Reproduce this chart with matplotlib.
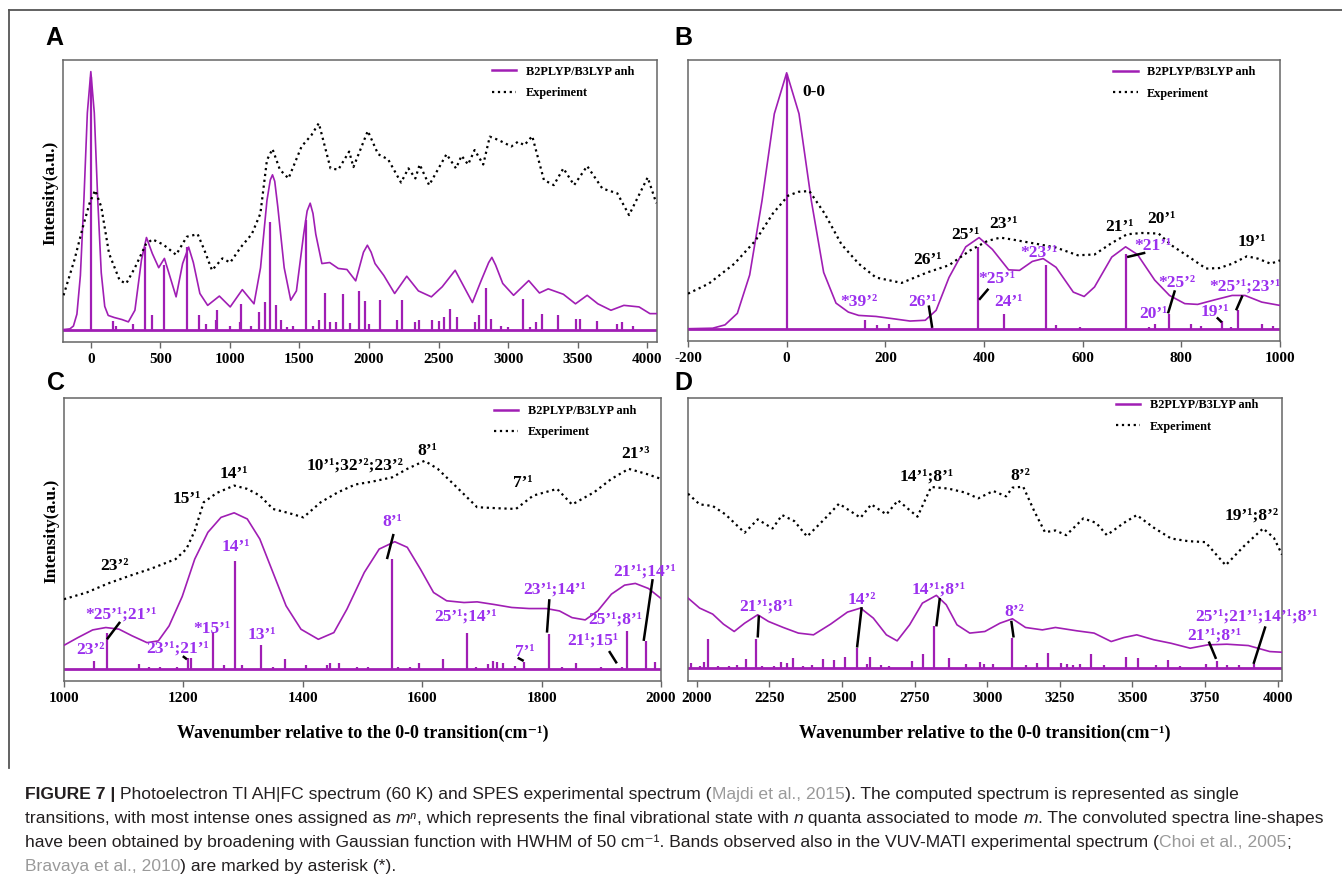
import matplotlib.pyplot as plt
from matplotlib.lines import Line2D

plt.rcParams['font.family'] = ['Liberation Serif', 'DejaVu Serif']
plt.rcParams['font.weight'] = 'bold'
plt.rcParams['axes.unicode_minus'] = False

PURPLE = '#A01EB4'
LABEL = '#9B30EE'
W, H = 1342, 880

# ---------------- panel A : full range ----------------
a_stick_x = [0, 160, 180, 300, 390, 440, 525, 690, 780, 830, 900, 910, 1000, 1070, 1080, 1150, 1210, 1250,
             1290, 1330, 1370, 1410, 1450, 1550, 1600, 1640, 1680, 1720, 1760, 1810, 1860, 1930, 1970, 2000,
             2080, 2200, 2240, 2330, 2360, 2450, 2500, 2540, 2580, 2630, 2760, 2790, 2840, 2880, 2950, 3000,
             3110, 3160, 3200, 3240, 3360, 3490, 3520, 3640, 3780, 3820, 3900]
a_stick_y = [98, 3.4, 1.5, 2, 32, 5.6, 25, 32, 5.6, 2, 3.6, 7.5, 1.5, 3, 10, 1.5, 6.9, 10.7,
             41.8, 9.4, 3.6, 1, 1.5, 42.4, 1.5, 3.6, 14, 3, 3, 13.7, 2.6, 15, 11, 2.3,
             11.4, 3.9, 11.4, 3, 3.9, 3.9, 3.4, 4.7, 7.8, 4.7, 3, 5.8, 16, 4, 1.5, 1.2,
             11.8, 1.2, 3, 6.2, 5.6, 4.3, 4, 3.4, 2.3, 3, 1.5]
a_calc_x = [-200, -150, -125, -100, -75, -50, -25, 0, 25, 50, 75, 100, 125, 168, 224, 270, 317, 364, 400,
            442, 488, 529, 572, 613, 660, 703, 737, 784, 840, 924, 1002, 1089, 1173, 1220, 1266, 1290, 1306,
            1322, 1344, 1390, 1437, 1478, 1530, 1555, 1577, 1597, 1617, 1661, 1717, 1779, 1841, 1904, 1960,
            1988, 2015, 2043, 2106, 2184, 2271, 2355, 2448, 2526, 2619, 2743, 2806, 2860, 2883, 2910, 2961,
            3039, 3148, 3225, 3288, 3397, 3484, 3568, 3645, 3739, 3832, 3941, 4019, 4070]
a_calc_y = [0, 0.3, 1.4, 6, 21, 50, 84, 100, 84, 50, 22, 9, 5.5, 4.7, 3.9, 3, 7.5, 27, 35.7,
            29.5, 24, 27.6, 20, 12.7, 25.6, 32, 26, 14, 9.4, 13, 8.8, 15.5, 10, 24, 50, 58, 60,
            57.5, 47.6, 24, 11.4, 15, 37, 46, 49, 45, 37, 25.6, 26, 23.7, 23.3, 18.9, 30,
            32.7, 30, 25.6, 21, 14, 20.7, 15, 12.7, 16.6, 23, 10.5, 19, 26, 28, 25, 17.9,
            13.3, 19, 14.2, 15.8, 13.7, 10, 13.3, 10, 7.5, 9.4, 8.8, 6.2, 6.2]
a_exp_x = [-196, -118, -56, -9, 31, 75, 131, 208, 255, 317, 395, 442, 520, 613, 690, 768, 815, 871, 946,
           1002, 1079, 1157, 1219, 1266, 1306, 1359, 1421, 1515, 1586, 1639, 1723, 1779, 1857, 1888, 1991,
           2065, 2137, 2230, 2283, 2333, 2364, 2432, 2557, 2625, 2665, 2712, 2759, 2821, 2868, 2930, 3023,
           3070, 3117, 3173, 3257, 3328, 3397, 3474, 3568, 3677, 3785, 3869, 4003, 4065]
a_exp_y = [13.3, 27, 40, 49, 54, 47.6, 29.5, 19, 17.9, 24, 33, 35, 33, 29, 36, 37, 31, 23, 27.6,
           26, 32, 37, 45, 65.7, 70, 62, 58.6, 71, 75.4, 80, 62.5, 62, 69, 63, 77,
           68, 66, 57, 62.5, 58.6, 64, 56, 68, 62.5, 67.4, 64, 69.6, 64, 74.8, 73.5, 71,
           72.8, 71.5, 75, 58, 56, 62.5, 56, 63.4, 54.7, 52.8, 44.4, 59, 49]
a_ticks = [0, 500, 1000, 1500, 2000, 2500, 3000, 3500, 4000]

# ---------------- panel B : -200..1000 ----------------
b_stick_x = [0, 158, 183, 207, 295, 387, 440, 525, 545, 595, 687, 735, 747, 775, 820, 840, 883, 900, 915, 963, 985]
b_stick_y = [99.5, 3.3, 1.3, 1.7, 0.6, 32, 5.9, 24.8, 1.3, 0.7, 29, 0.8, 2, 5.9, 2, 1, 3, 0.8, 7.4, 1.7, 1]
b_calc_x = [-200, -150, -125, -100, -75, -50, -25, 0, 25, 50, 75, 100, 125, 146, 181, 216, 250, 281, 303, 329,
            363, 390, 417, 450, 472, 498, 520, 546, 581, 603, 624, 659, 687, 711, 746, 776, 807, 833, 868, 903,
            929, 963, 1000]
b_calc_y = [0, 0.2, 1.5, 6, 21, 50, 84, 100, 84, 50, 22, 10, 6.5, 5.2, 4.8, 3.9, 3, 3.3, 7.2, 20,
            32, 35.6, 31, 23, 22.8, 26.3, 27.4, 24, 14.3, 12.6, 16.3, 28, 32, 29, 19, 13, 9.8, 9.5, 11.3, 13,
            13, 10.4, 9.1]
b_exp_x = [-200, -158, -106, -63, -28, 3, 24, 46, 77, 111, 146, 181, 233, 285, 329, 372, 407, 433, 459, 511,
           546, 590, 624, 659, 690, 720, 754, 780, 816, 850, 877, 903, 933, 955, 981, 1000]
b_exp_y = [13.7, 17.6, 25.4, 34.5, 45, 52, 53.5, 53.8, 45, 33, 25.4, 20, 17.9, 22, 24.8, 30.6, 34.3, 35.6, 34.8, 33,
           31.7, 28.7, 29, 33.5, 36.9, 37.4, 37.2, 32.6, 28, 23.5, 23.7, 25.4, 28.3, 27.4, 25.4, 26.7]
b_ticks = [-200, 0, 200, 400, 600, 800, 1000]
b_black = [('0-0', 55, 92.6), ('26’¹', 285, 26.7), ('25’¹', 363, 36.5), ('23’¹', 440, 40.8),
           ('21’¹', 675, 39.8), ('20’¹', 759, 43), ('19’¹', 942, 33.9)]
b_purple = [('*39’²', 146, 10.4), ('26’¹', 275, 10.4), ('*25’¹', 426, 19.6), ('24’¹', 449, 10.4),
            ('*23’¹', 511, 29.6), ('*21’¹', 742, 32.2), ('*25’²', 790, 17.9), ('20’¹', 744, 5.9),
            ('19’¹', 868, 6.5), ('*25’¹;23’¹', 929, 16.3)]
b_leaders = [((288, 9.1), (295, 0.4)), ((409, 15.6), (390, 11.3)), ((727, 29.7), (690, 28)),
             ((787, 15), (773, 6)), ((872, 4.4), (882, 2.5)), ((924, 13), (911, 7.2))]

# ---------------- panel C : 1000..2000 ----------------
c_stick_x = [1050, 1072, 1125, 1142, 1160, 1190, 1208, 1213, 1250, 1268, 1287, 1298, 1330, 1350, 1370, 1405,
             1440, 1445, 1460, 1490, 1510, 1550, 1560, 1580, 1595, 1635, 1675, 1690, 1710, 1718, 1725, 1735,
             1755, 1770, 1812, 1835, 1858, 1900, 1935, 1943, 1975, 1990]
c_stick_y = [2.9, 13.5, 1.6, 0.8, 0.8, 0.8, 4.1, 4, 13.8, 1.2, 40.4, 1.2, 8.8, 0.8, 3.5, 1.2,
             1.2, 2, 2.3, 0.8, 0.8, 41, 0.8, 0.8, 2.3, 3.5, 13.3, 0.8, 1.6, 2.9, 2.5, 2.3,
             1, 2.5, 12.9, 0.8, 2.3, 0.8, 0.8, 14.1, 10.4, 2.5]
c_calc_x = [1000, 1023, 1048, 1070, 1092, 1114, 1139, 1158, 1176, 1198, 1219, 1241, 1263, 1285, 1307, 1328,
            1350, 1372, 1397, 1426, 1452, 1474, 1503, 1528, 1554, 1575, 1597, 1619, 1641, 1670, 1692, 1721,
            1750, 1779, 1808, 1830, 1851, 1873, 1894, 1917, 1939, 1957, 1979, 2000]
c_calc_y = [8.75, 11.6, 14.5, 15.4, 14.8, 12.3, 9.75, 10.4, 16, 27, 41, 51, 56.6, 58.3, 56, 48.5,
            36, 23.5, 14.75, 11, 13.5, 22.3, 36, 44.75, 47.5, 45.4, 37.25, 28.5, 25.4, 24.75, 25, 24,
            22.9, 22.5, 22.5, 21.6, 19.1, 18.25, 21.6, 27.9, 31.25, 31.9, 30, 26.25]
c_exp_x = [1000, 1038, 1074, 1110, 1147, 1187, 1205, 1219, 1234, 1256, 1285, 1307, 1328, 1350, 1376, 1401,
           1430, 1459, 1488, 1517, 1550, 1575, 1604, 1626, 1655, 1692, 1728, 1757, 1786, 1826, 1851, 1888,
           1917, 1946, 1975, 2000]
c_exp_y = [26, 28.5, 31.9, 34.75, 37.5, 41, 44.75, 51.6, 62.25, 65.75, 68.5, 67.25, 64.75, 59.75, 58.25, 56.6,
           62.25, 66, 68.9, 70, 71.6, 74.75, 77.75, 74.75, 68.5, 60.4, 60, 59.75, 64.75, 67.25, 61.4, 66,
           71, 74.75, 72.9, 71]
c_ticks = [1000, 1200, 1400, 1600, 1800, 2000]
c_black = [('23’²', 1085, 38.5), ('15’¹', 1206, 63.5), ('14’¹', 1285, 72.9), ('10’¹;32’²;23’²', 1487, 76),
           ('8’¹', 1608, 81.25), ('7’¹', 1768, 69.5), ('21’³', 1957, 80.4)]
c_purple = [('*25’¹;21’¹', 1096, 20.4), ('23’²', 1044, 7), ('23’¹;21’¹', 1190, 7.5), ('*15’¹', 1248, 14.75),
            ('14’¹', 1288, 45.4), ('13’¹', 1332, 12.5), ('8’¹', 1550, 54.75), ('25’¹;14’¹', 1673, 19.5),
            ('23’¹;14’¹', 1822, 29.5), ('7’¹', 1772, 6.25), ('21¹;15¹', 1886, 10.4), ('25’¹;8’¹', 1924, 18.5),
            ('21’¹;14’¹', 1973, 36.4)]
c_leaders = [((1094, 17.5), (1072, 11)), ((1199, 4.7), (1206, 3.5)), ((1552, 50.4), (1541, 41)),
             ((1813, 26), (1809, 13.5)), ((1913, 6.6), (1926, 2)), ((1986, 33.5), (1971, 10.4)),
             ((1760, 4.1), (1770, 2.9))]

# ---------------- panel D : 2000..4000 ----------------
d_stick_x = [1980, 2010, 2026, 2039, 2072, 2112, 2138, 2168, 2204, 2225, 2265, 2291, 2311, 2332, 2367, 2398,
             2434, 2474, 2510, 2551, 2587, 2597, 2633, 2663, 2740, 2780, 2816, 2867, 2928, 2974, 2990, 3020,
             3086, 3132, 3173, 3209, 3255, 3275, 3296, 3321, 3357, 3403, 3479, 3520, 3581, 3622, 3663, 3755,
             3790, 3826, 3867, 3918]
d_stick_y = [1.6, 0.5, 2, 10.6, 0.5, 0.5, 1, 3.25, 10.6, 0.5, 0.5, 2.25, 1.6, 3.5, 0.5, 1,
             3.25, 2.9, 4.1, 7.25, 1.2, 4.1, 0.8, 0.5, 2.5, 5.1, 15.4, 3.75, 1.4, 2.25, 1.2, 1.2,
             11, 1, 1.6, 5.4, 1.9, 1.2, 1, 1.2, 5.1, 0.8, 3.9, 3.5, 0.8, 2.9, 0.6, 1.4,
             2.5, 0.8, 0.8, 1.4]
d_calc_x = [1970, 2010, 2055, 2092, 2129, 2165, 2210, 2247, 2298, 2350, 2402, 2461, 2519, 2564, 2608, 2653,
            2690, 2733, 2777, 2825, 2859, 2896, 2940, 2992, 3044, 3087, 3132, 3190, 3235, 3309, 3368, 3427,
            3471, 3515, 3574, 3633, 3699, 3759, 3825, 3899, 3973, 4015]
d_calc_y = [26, 22.25, 20, 16.25, 13.5, 16.6, 19.75, 17.25, 15, 12.9, 12.25, 16.25, 20.75, 22.25, 18.5, 12.25,
            10, 16, 24.1, 27, 23.5, 16, 12.9, 13.5, 16.6, 18.25, 15, 14.1, 15, 13.75, 12.9, 9.75,
            11.25, 12.25, 10.4, 9.1, 7.25, 8.5, 8.75, 8.25, 6, 5.75]
d_exp_x = [1970, 2010, 2055, 2099, 2165, 2210, 2261, 2294, 2336, 2380, 2439, 2490, 2564, 2601, 2653, 2693,
           2760, 2807, 2866, 2925, 2969, 3021, 3065, 3087, 3124, 3162, 3199, 3235, 3272, 3331, 3375, 3412,
           3471, 3515, 3574, 3633, 3692, 3751, 3821, 3884, 3950, 3987, 4015]
d_exp_y = [65, 61, 60.4, 57.25, 50.4, 55.4, 52, 57, 54.75, 49, 55.4, 61.25, 56, 61, 57.25, 62.5,
           56.4, 67.5, 66.9, 65.4, 63.25, 66, 64, 67.25, 67.6, 58.5, 50.6, 51.25, 49.5, 55.75, 54.1, 49.5,
           54.1, 57, 52.25, 48.25, 47.25, 46.9, 38.25, 45.4, 52, 48.5, 42.25]
d_ticks = [2000, 2250, 2500, 2750, 3000, 3250, 3500, 3750, 4000]
d_black = [('14’¹;8’¹', 2793, 71.25), ('8’²', 3114, 71.6), ('19’¹;8’²', 3911, 57)]
d_purple = [('21’¹;8’¹', 2240, 22.9), ('14’²', 2567, 25.4), ('14’¹;8’¹', 2833, 29.1), ('8’²', 3092, 20.75),
            ('21’¹;8’¹', 3781, 12), ('25’¹;21’¹;14’¹;8’¹', 3928, 19.1)]
d_leaders = [((2214, 19.5), (2210, 11.25)), ((2568, 22.6), (2552, 7.5)), ((2837, 26), (2825, 15.4)),
             ((3083, 17.5), (3091, 11.25)), ((3763, 9.75), (3788, 3.25)), ((3958, 15.4), (3917, 1.4))]


def box(l, t, r, b):
    return [l / W, 1 - b / H, (r - l) / W, (b - t) / H]


def panel(ax, sx, sy, cx, cy, ex, ey, xlim, ylim, ticks, black=(), purple=(), leaders=(), leg=(0.72, 0.98)):
    ax.axhline(0, color=PURPLE, lw=2.0, zorder=2)
    ax.vlines(sx, 0, sy, color=PURPLE, lw=1.6, zorder=2)
    ax.plot(cx, cy, color=PURPLE, lw=1.2, zorder=3)
    ax.plot(ex, ey, color='black', ls=':', lw=1.6, zorder=3)
    for (x0, y0), (x1, y1) in leaders:
        ax.plot([x0, x1], [y0, y1], color='black', lw=1.8, zorder=4, solid_capstyle='butt')
    for s, x, y in black:
        ax.text(x, y, s, color='black', fontsize=12.5, ha='center', va='center', zorder=5)
    for s, x, y in purple:
        ax.text(x, y, s, color=LABEL, fontsize=12.5, ha='center', va='center', zorder=5)
    ax.set_xlim(*xlim)
    ax.set_ylim(*ylim)
    ax.set_xticks(ticks)
    ax.set_yticks([])
    ax.tick_params(axis='x', direction='out', length=4, width=1, colors='#666', labelcolor='black',
                   labelsize=11, pad=4)
    for lab in ax.get_xticklabels():
        lab.set_fontweight('bold')
    for sp in ax.spines.values():
        sp.set_color('#666')
        sp.set_linewidth(1.1)
    handles = [Line2D([], [], color=PURPLE, lw=1.8, label='B2PLYP/B3LYP anh'),
               Line2D([], [], color='black', ls=':', lw=1.6, label='Experiment')]
    ax.legend(handles=handles, loc='upper left', bbox_to_anchor=leg, frameon=False, borderpad=0,
              borderaxespad=0, handlelength=2.0, handletextpad=0.8, labelspacing=0.75,
              prop={'weight': 'bold', 'size': 8.8, 'family': 'Liberation Serif'})


fig = plt.figure(figsize=(W / 100, H / 100), dpi=100)

ax_a = fig.add_axes(box(63, 60, 657, 342))
ax_b = fig.add_axes(box(688, 60, 1280, 341))
ax_c = fig.add_axes(box(64, 398, 661, 681))
ax_d = fig.add_axes(box(688, 398, 1282, 681))

panel(ax_a, a_stick_x, a_stick_y, a_calc_x, a_calc_y, a_exp_x, a_exp_y, (-200, 4070), (-4.8, 104.5), a_ticks,
      leg=(0.722, 0.98))
panel(ax_b, b_stick_x, b_stick_y, b_calc_x, b_calc_y, b_exp_x, b_exp_y, (-200, 1000), (-4.8, 105), b_ticks,
      b_black, b_purple, b_leaders, leg=(0.718, 0.977))
panel(ax_c, c_stick_x, c_stick_y, c_calc_x, c_calc_y, c_exp_x, c_exp_y, (1000, 2000), (-4.6, 101.25), c_ticks,
      c_black, c_purple, c_leaders, leg=(0.72, 0.975))
panel(ax_d, d_stick_x, d_stick_y, d_calc_x, d_calc_y, d_exp_x, d_exp_y, (1970, 4015), (-5, 100.75), d_ticks,
      d_black, d_purple, d_leaders, leg=(0.72, 0.995))

for ax in (ax_a, ax_c):
    ax.set_ylabel('Intensity(a.u.)', fontsize=12.5, fontweight='bold')
    ax.yaxis.set_label_coords(-0.008, 0.53)
for ax in (ax_c, ax_d):
    ax.set_xlabel('Wavenumber relative to the 0-0 transition(cm⁻¹)', fontsize=13, fontweight='bold',
                  labelpad=14)

for s, x, y in [('A', 45, 38), ('B', 674, 38), ('C', 47, 383), ('D', 674, 383)]:
    fig.text(x / W, 1 - y / H, s, fontsize=18, fontweight='bold', family='Liberation Sans',
             ha='left', va='center')

# outer frame of the figure area
fig.add_artist(Line2D([9 / W, 1], [1 - 10.5 / H, 1 - 10.5 / H], color='#555', lw=1.3))
fig.add_artist(Line2D([9 / W, 9 / W], [1 - 10.5 / H, 1 - 768 / H], color='#555', lw=1.3))

# caption
renderer = fig.canvas.get_renderer()
CAP = 12.6
DARK, GREY = '#231f20', '#9a9a9a'


def rich_line(x, y, parts):
    for s, kw in parts:
        t = fig.text(x / W, 1 - y / H, s, fontsize=CAP, va='baseline', ha='left',
                     family=['Liberation Sans', 'DejaVu Sans'], **kw)
        x += t.get_window_extent(renderer=renderer).width


N = {'color': DARK, 'fontweight': 'normal'}
B = {'color': DARK, 'fontweight': 'bold'}
G = {'color': GREY, 'fontweight': 'normal'}
I = {'color': DARK, 'fontweight': 'normal', 'style': 'italic'}

rich_line(25, 799, [('FIGURE 7 | ', B),
                    ('Photoelectron TI AH|FC spectrum (60 K) and SPES experimental spectrum (', N),
                    ('Majdi et al., 2015', G),
                    ('). The computed spectrum is represented as single', N)])
rich_line(25, 823, [('transitions, with most intense ones assigned as ', N), ('mⁿ', I),
                    (', which represents the final vibrational state with ', N), ('n', I),
                    (' quanta associated to mode ', N), ('m', I),
                    ('. The convoluted spectra line-shapes', N)])
rich_line(25, 847, [('have been obtained by broadening with Gaussian function with HWHM of 50 cm⁻¹. Bands observed '
                     'also in the VUV-MATI experimental spectrum (', N),
                    ('Choi et al., 2005', G), (';', N)])
rich_line(25, 871, [('Bravaya et al., 2010', G), (') are marked by asterisk (*).', N)])

fig.savefig('out.png', dpi=100)
